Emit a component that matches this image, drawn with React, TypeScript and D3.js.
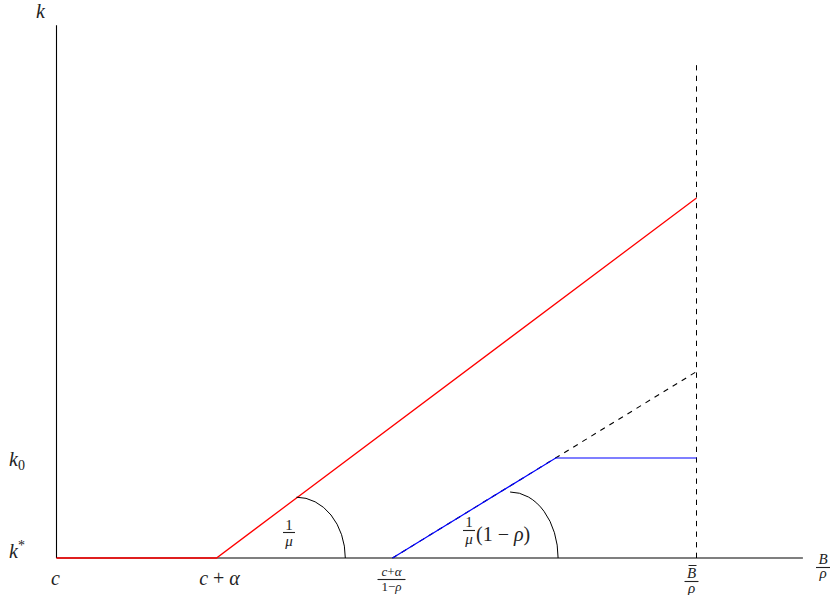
import React from "react";
import * as d3 from "d3";

// ---- data (abstract model units) ----
const redX = [0, 2, 8];
const redY = [0, 0, 4.5];
const dashX = [4.2, 8];
const dashY = [0, 2.33];
const blueX = [4.2, 6.24, 8];
const blueY = [0, 1.25, 1.25];
const vlineX = 8;
const vlineTop = 6.16;
const axisXEnd = 9.33;
const axisYEnd = 6.66;
// arcs: [centerX, radiusX, radiusY]
const arcRed = [3.0, 0.61, 0.76];
const arcBlue = [5.67, 0.6, 0.825];

const W = 834;
const H = 595;
const x = d3.scaleLinear().domain([0, 8]).range([56.5, 696.5]);
const y = d3.scaleLinear().domain([0, 6]).range([558, 78]);

const FONT = "'Liberation Serif', 'DejaVu Serif', serif";

function line(xs: number[], ys: number[]) {
  const g = d3
    .line<number>()
    .x((_, i) => x(xs[i]))
    .y((_, i) => y(ys[i]));
  return g(xs) || "";
}

function arcPath(a: number[]) {
  const [cx, rx, ry] = a;
  const px = x(cx);
  const py = y(0);
  const rxp = x(cx + rx) - x(cx);
  const ryp = y(0) - y(ry);
  return `M${px},${py - ryp} A${rxp},${ryp} 0 0 1 ${px + rxp},${py}`;
}

function Frac(props: {
  cx: number;
  numY: number;
  barY: number;
  denY: number;
  w: number;
  num: React.ReactNode;
  den: React.ReactNode;
  size: number;
  extra?: React.ReactNode;
}) {
  const { cx, numY, barY, denY, w, num, den, size, extra } = props;
  return (
    <g fontFamily={FONT} fontSize={size} textAnchor="middle" fill="#222">
      <text x={cx} y={numY}>{num}</text>
      <line x1={cx - w / 2} x2={cx + w / 2} y1={barY} y2={barY} stroke="#222" strokeWidth={1.1} />
      <text x={cx} y={denY}>{den}</text>
      {extra}
    </g>
  );
}

export default function App() {
  const bbx = x(8) - 5;
  return (
    <svg width={W} height={H} style={{ position: "absolute", left: 0, top: 0, background: "#fff" }}>
      {/* axes */}
      <line x1={x(0)} x2={x(0)} y1={y(0)} y2={y(axisYEnd)} stroke="#000" strokeWidth={1.1} />
      <line x1={x(0)} x2={x(axisXEnd)} y1={y(0)} y2={y(0)} stroke="#000" strokeWidth={1.1} />

      {/* vertical dashed */}
      <line
        x1={x(vlineX)}
        x2={x(vlineX)}
        y1={y(0)}
        y2={y(vlineTop)}
        stroke="#000"
        strokeWidth={1}
        strokeDasharray="5.3,5.3"
      />

      {/* black dashed */}
      <path d={line(dashX, dashY)} fill="none" stroke="#000" strokeWidth={1.1} strokeDasharray="5.3,5.3" />
      {/* blue */}
      <path d={line(blueX, blueY)} fill="none" stroke="#0000ff" strokeWidth={1.2} />
      {/* red */}
      <path d={line(redX, redY)} fill="none" stroke="#ff0000" strokeWidth={1.3} />

      {/* arcs */}
      <path d={arcPath(arcRed)} fill="none" stroke="#000" strokeWidth={1} />
      <path d={arcPath(arcBlue)} fill="none" stroke="#000" strokeWidth={1} />

      {/* y labels */}
      <g fontFamily={FONT} fill="#222" fontStyle="italic" fontSize={20}>
        <text x={36} y={18}>k</text>
        <text x={9} y={466}>
          k<tspan fontStyle="normal" fontSize={14} dy={4}>0</tspan>
        </text>
        <text x={9} y={558}>
          k<tspan fontStyle="normal" fontSize={14} dy={-8}>*</tspan>
        </text>
      </g>

      {/* x labels */}
      <g fontFamily={FONT} fill="#222" fontSize={20} textAnchor="middle">
        <text x={x(0) - 1} y={585} fontStyle="italic">c</text>
        <text x={x(2) + 3} y={585}>
          <tspan fontStyle="italic">c</tspan> + <tspan fontStyle="italic">α</tspan>
        </text>
      </g>
      <Frac
        cx={x(4.2) - 1}
        numY={576}
        barY={579.5}
        denY={591}
        w={28}
        size={13}
        num={<><tspan fontStyle="italic">c</tspan>+<tspan fontStyle="italic">α</tspan></>}
        den={<>1−<tspan fontStyle="italic">ρ</tspan></>}
      />
      <Frac
        cx={bbx}
        numY={578}
        barY={581.5}
        denY={593}
        w={14}
        size={15}
        num={<tspan fontStyle="italic">B</tspan>}
        den={<tspan fontStyle="italic">ρ</tspan>}
        extra={<line x1={bbx - 3} x2={bbx + 5} y1={565.5} y2={565.5} stroke="#222" strokeWidth={1} />}
      />
      <Frac
        cx={823}
        numY={564}
        barY={567.5}
        denY={578}
        w={14}
        size={15}
        num={<tspan fontStyle="italic">B</tspan>}
        den={<tspan fontStyle="italic">ρ</tspan>}
      />

      {/* slope labels */}
      <Frac
        cx={289}
        numY={530}
        barY={532.5}
        denY={546}
        w={12}
        size={15}
        num={<>1</>}
        den={<tspan fontStyle="italic">μ</tspan>}
      />
      <Frac
        cx={469}
        numY={527}
        barY={530.5}
        denY={544}
        w={12}
        size={15}
        num={<>1</>}
        den={<tspan fontStyle="italic">μ</tspan>}
      />
      <text x={476} y={541} fontFamily={FONT} fontSize={20} fill="#222">
        (1 − <tspan fontStyle="italic">ρ</tspan>)
      </text>
    </svg>
  );
}
